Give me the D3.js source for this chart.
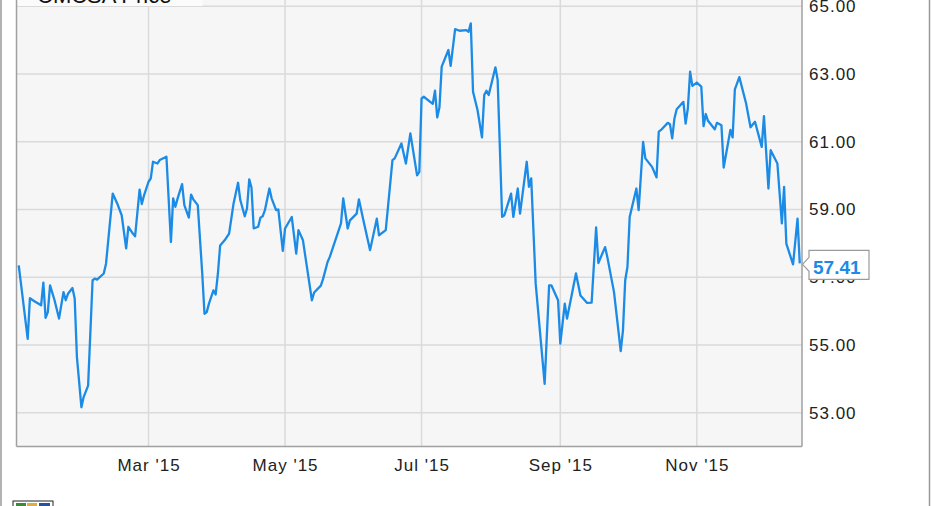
<!DOCTYPE html>
<html>
<head>
<meta charset="utf-8">
<script src="https://cdn.jsdelivr.net/npm/d3@7"></script>
<style>
  html, body { margin: 0; padding: 0; background: #ffffff; }
  svg { display: block; }
  text { font-family: "Liberation Sans", Arial, sans-serif; }
</style>
</head>
<body>
<svg id="chart" width="931" height="506"></svg>
<script>
// ---- data ----
const seriesName = "CMCSA Price";
const dates = [
  "2015-01-02","2015-01-06","2015-01-07","2015-01-09","2015-01-12","2015-01-13","2015-01-14","2015-01-15","2015-01-16","2015-01-18",
  "2015-01-20","2015-01-22","2015-01-23","2015-01-24","2015-01-26","2015-01-27","2015-01-28","2015-01-30","2015-01-31","2015-02-02",
  "2015-02-04","2015-02-05","2015-02-06","2015-02-09","2015-02-10","2015-02-11","2015-02-13","2015-02-15","2015-02-17","2015-02-19",
  "2015-02-20","2015-02-22","2015-02-23","2015-02-25","2015-02-26","2015-02-27","2015-03-01","2015-03-02","2015-03-03","2015-03-05",
  "2015-03-06","2015-03-09","2015-03-11","2015-03-12","2015-03-13","2015-03-14","2015-03-16","2015-03-17","2015-03-19","2015-03-20",
  "2015-03-21","2015-03-23","2015-03-25","2015-03-26","2015-03-27","2015-03-28","2015-03-30","2015-03-31","2015-04-01","2015-04-02",
  "2015-04-04","2015-04-06","2015-04-08","2015-04-10","2015-04-11","2015-04-13","2015-04-14","2015-04-15","2015-04-16","2015-04-17",
  "2015-04-19","2015-04-20","2015-04-21","2015-04-22","2015-04-24","2015-04-25","2015-04-27","2015-04-28","2015-04-30","2015-05-01",
  "2015-05-04","2015-05-06","2015-05-07","2015-05-09","2015-05-11","2015-05-13","2015-05-14","2015-05-17","2015-05-18","2015-05-20",
  "2015-05-21","2015-05-26","2015-05-27","2015-05-29","2015-05-30","2015-06-02","2015-06-03","2015-06-05","2015-06-07","2015-06-08",
  "2015-06-11","2015-06-12","2015-06-15","2015-06-16","2015-06-18","2015-06-19","2015-06-22","2015-06-24","2015-06-26","2015-06-29",
  "2015-06-30","2015-07-01","2015-07-02","2015-07-06","2015-07-07","2015-07-08","2015-07-09","2015-07-10","2015-07-13","2015-07-14",
  "2015-07-16","2015-07-18","2015-07-21","2015-07-22","2015-07-23","2015-07-24","2015-07-26","2015-07-28","2015-07-29","2015-07-30",
  "2015-07-31","2015-08-03","2015-08-04","2015-08-06","2015-08-07","2015-08-10","2015-08-11","2015-08-13","2015-08-14","2015-08-17",
  "2015-08-18","2015-08-19","2015-08-21","2015-08-25","2015-08-27","2015-08-28","2015-08-31","2015-09-01","2015-09-03","2015-09-04",
  "2015-09-08","2015-09-10","2015-09-13","2015-09-15","2015-09-17","2015-09-18","2015-09-21","2015-09-22","2015-09-25","2015-09-28",
  "2015-09-29","2015-09-30","2015-10-01","2015-10-02","2015-10-05","2015-10-06","2015-10-08","2015-10-09","2015-10-12","2015-10-14",
  "2015-10-15","2015-10-16","2015-10-19","2015-10-20","2015-10-21","2015-10-22","2015-10-23","2015-10-26","2015-10-27","2015-10-28",
  "2015-10-29","2015-10-30","2015-11-01","2015-11-03","2015-11-04","2015-11-05","2015-11-06","2015-11-09","2015-11-10","2015-11-12",
  "2015-11-13","2015-11-16","2015-11-17","2015-11-18","2015-11-20","2015-11-23","2015-11-25","2015-11-27","2015-11-30","2015-12-01",
  "2015-12-03","2015-12-04","2015-12-07","2015-12-09","2015-12-10","2015-12-11","2015-12-14","2015-12-16","2015-12-17"
];
const prices = [
  57.35,55.18,56.38,56.29,56.17,56.84,55.80,55.97,56.76,56.32,
  55.78,56.56,56.32,56.51,56.68,56.37,54.64,53.16,53.46,53.80,
  56.91,56.96,56.93,57.11,57.40,58.09,59.47,59.18,58.83,57.85,
  58.49,58.29,58.21,59.59,59.16,59.42,59.82,59.92,60.41,60.36,
  60.46,60.56,58.04,59.33,59.08,59.33,59.75,59.13,58.76,59.44,
  59.30,59.13,57.11,55.92,55.97,56.22,56.61,56.49,57.11,57.94,
  58.09,58.29,59.18,59.79,59.28,58.80,59.03,59.89,59.65,58.44,
  58.49,58.76,58.80,58.98,59.62,59.33,58.98,59.00,57.78,58.44,
  58.78,57.70,58.39,58.09,57.20,56.32,56.55,56.75,56.95,57.45,
  57.60,58.59,59.33,58.44,58.68,58.88,59.30,58.68,58.09,57.80,
  58.73,58.24,58.39,59.08,60.46,60.51,60.95,60.36,61.25,60.01,
  60.11,62.28,62.33,62.12,62.51,61.72,62.02,63.22,63.71,63.24,
  64.33,64.28,64.30,64.25,64.50,62.48,61.94,61.13,62.38,62.51,
  62.38,63.20,62.83,58.78,58.83,59.47,58.78,59.62,58.88,60.41,
  59.67,59.92,56.81,53.85,56.76,56.76,56.32,55.04,56.22,55.78,
  57.11,56.46,56.24,56.25,58.47,57.42,57.89,57.60,56.56,54.82,
  55.43,56.91,57.30,58.78,59.62,58.98,61.00,60.51,60.26,59.95,
  61.30,61.35,61.56,61.52,61.10,61.69,61.96,62.18,61.54,61.99,
  63.07,62.65,62.75,62.63,61.46,61.82,61.62,61.37,61.56,61.49,
  60.24,61.35,61.13,62.55,62.91,62.14,61.43,61.59,60.85,61.76,
  59.62,60.75,60.36,58.59,59.67,57.99,57.38,58.73,57.41
];
const yTickValues = [53, 55, 57, 59, 61, 63, 65];
const xTickDates = ["2015-03-01", "2015-05-01", "2015-07-01", "2015-09-01", "2015-11-01"];
const xTickLabels = ["Mar '15", "May '15", "Jul '15", "Sep '15", "Nov '15"];
const xDomain = ["2015-01-01", "2015-12-18"];
const yDomain = [52, 65.2];

// ---- layout ----
const svg = d3.select("#chart");
const W = 931, H = 506;
const plot = { left: 16.5, right: 802, top: -0.4, bottom: 446.5 };
const parse = d3.timeParse("%Y-%m-%d");
const data = dates.map((d, i) => ({ date: parse(d), value: prices[i] }));

const x = d3.scaleTime().domain(xDomain.map(parse)).range([plot.left, plot.right]);
const y = d3.scaleLinear().domain(yDomain).range([plot.bottom, plot.top]);

// outer frame lines
svg.append("line").attr("x1", 1).attr("x2", 1).attr("y1", 0).attr("y2", H)
  .attr("stroke", "#9a9a9a").attr("stroke-width", 1.5);
svg.append("line").attr("x1", 929.5).attr("x2", 929.5).attr("y1", 0).attr("y2", H)
  .attr("stroke", "#9a9a9a").attr("stroke-width", 1.5);

// plot background
svg.append("rect")
  .attr("x", plot.left).attr("y", 0)
  .attr("width", plot.right - plot.left).attr("height", plot.bottom)
  .attr("fill", "#f6f6f6");

// horizontal grid
svg.append("g").selectAll("line").data(yTickValues).join("line")
  .attr("x1", plot.left).attr("x2", plot.right)
  .attr("y1", d => y(d)).attr("y2", d => y(d))
  .attr("stroke", "#dadada").attr("stroke-width", 1.5);

// vertical grid
svg.append("g").selectAll("line").data(xTickDates).join("line")
  .attr("x1", d => x(parse(d))).attr("x2", d => x(parse(d)))
  .attr("y1", 0).attr("y2", plot.bottom)
  .attr("stroke", "#dadada").attr("stroke-width", 1.5);

// legend box at top-left (mostly cut off by the top edge)
svg.append("rect").attr("x", plot.left + 1).attr("y", -20)
  .attr("width", 185).attr("height", 26).attr("fill", "#fbfbfb");
svg.append("text").attr("x", 37).attr("y", 3)
  .attr("font-size", 22).attr("fill", "#111")
  .text(seriesName);

// plot frame
svg.append("line").attr("x1", plot.left).attr("x2", plot.left).attr("y1", 0).attr("y2", plot.bottom)
  .attr("stroke", "#a0a0a0").attr("stroke-width", 1.5);
svg.append("line").attr("x1", plot.right).attr("x2", plot.right).attr("y1", 0).attr("y2", plot.bottom)
  .attr("stroke", "#a0a0a0").attr("stroke-width", 1.5);
svg.append("line").attr("x1", plot.left).attr("x2", plot.right).attr("y1", plot.bottom).attr("y2", plot.bottom)
  .attr("stroke", "#a0a0a0").attr("stroke-width", 1.5);

// y axis labels (right side)
const yAxis = d3.axisRight(y).tickValues(yTickValues).tickSize(0).tickPadding(7)
  .tickFormat(d3.format(".2f"));
const gy = svg.append("g").attr("transform", `translate(${plot.right},0)`).call(yAxis);
gy.select(".domain").remove();
gy.selectAll("text").attr("font-size", 17).attr("fill", "#222")
  .attr("letter-spacing", "1px")
  .style("font-family", '"Liberation Sans", Arial, sans-serif');

// x axis labels
const xAxis = d3.axisBottom(x).tickValues(xTickDates.map(parse)).tickSize(0).tickPadding(0)
  .tickFormat((d, i) => xTickLabels[i]);
const gx = svg.append("g").attr("transform", `translate(0,${plot.bottom})`).call(xAxis);
gx.select(".domain").remove();
gx.selectAll("text").attr("font-size", 17).attr("fill", "#222")
  .attr("letter-spacing", "1px").attr("dy", 0).attr("y", 24)
  .style("font-family", '"Liberation Sans", Arial, sans-serif');

// price line
const line = d3.line().x(d => x(d.date)).y(d => y(d.value));
svg.append("path").datum(data)
  .attr("d", line).attr("fill", "none")
  .attr("stroke", "#1b8be6").attr("stroke-width", 2.3)
  .attr("stroke-linejoin", "round");

// last value tag
const last = data[data.length - 1];
const ly = y(last.value);
const bx0 = plot.right + 7, bx1 = plot.right + 67;
const tagTop = ly - 13, tagBot = ly + 16;
svg.append("path")
  .attr("d", `M${plot.right + 0.5},${ly + 1} L${bx0},${ly - 6} L${bx0},${tagTop} L${bx1},${tagTop} L${bx1},${tagBot} L${bx0},${tagBot} L${bx0},${ly + 8} Z`)
  .attr("fill", "#ffffff").attr("stroke", "#9a9a9a").attr("stroke-width", 1.2);
svg.append("text").attr("x", bx0 + 4).attr("y", ly + 10.5)
  .attr("font-size", 19).attr("font-weight", "bold").attr("fill", "#1b8be6")
  .text(d3.format(".2f")(last.value));

// small logo mark at bottom-left
const logo = svg.append("g").attr("transform", "translate(13,501)");
logo.append("rect").attr("width", 40).attr("height", 8).attr("fill", "#ffffff").attr("stroke", "#222").attr("stroke-width", 1);
logo.append("rect").attr("x", 3).attr("y", 2).attr("width", 10).attr("height", 6).attr("fill", "#3a8a3a");
logo.append("rect").attr("x", 14).attr("y", 2).attr("width", 10).attr("height", 6).attr("fill", "#d8b040");
logo.append("rect").attr("x", 26).attr("y", 2).attr("width", 11).attr("height", 6).attr("fill", "#2850a0");
</script>
</body>
</html>
